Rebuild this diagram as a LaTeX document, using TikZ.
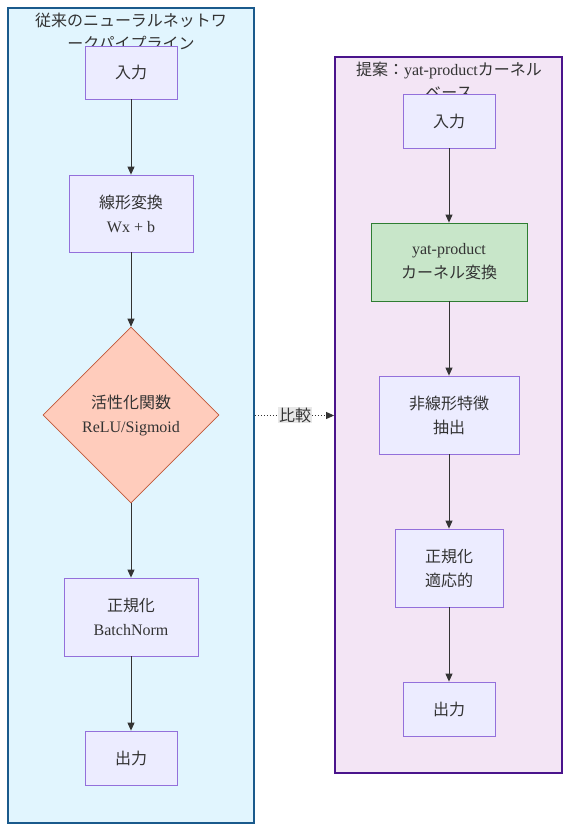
\documentclass[tikz,border=0pt]{standalone}
\usepackage{fontspec}
\setmainfont{Liberation Serif}
\newfontfamily\jp{Noto Sans CJK JP}
\usetikzlibrary{shapes.geometric,arrows.meta}
\definecolor{nodefill}{HTML}{ECECFF}
\definecolor{nodeline}{HTML}{9370DB}
\definecolor{txt}{HTML}{333333}
\definecolor{lbfill}{HTML}{E1F5FE}
\definecolor{lbline}{HTML}{1A5A8C}
\definecolor{rbfill}{HTML}{F3E5F5}
\definecolor{rbline}{HTML}{4A148C}
\definecolor{gfill}{HTML}{C8E6C9}
\definecolor{gline}{HTML}{2E7D32}
\definecolor{dfill}{HTML}{FFCCBC}
\definecolor{dline}{HTML}{C0583A}
\definecolor{lblbg}{HTML}{E8E8E8}
\tikzset{
  cluster/.style={rectangle, line width=1.8pt, inner sep=0pt},
  box/.style={rectangle, draw=nodeline, fill=nodefill, line width=0.8pt, text=txt,
    font=\fontsize{16}{24}\selectfont, align=center, inner sep=0pt},
  ttl/.style={text=txt, font=\fontsize{16}{23}\selectfont, align=center, inner sep=0pt},
  edge/.style={draw=txt, line width=0.9pt, -{Triangle[length=8pt,width=7pt]}}
}
\begin{document}
\begin{tikzpicture}[x=1pt,y=-1pt]
\useasboundingbox (0,0) rectangle (570,831);
\fill[white] (0,0) rectangle (570,831);
% clusters
\node[cluster, fill=lbfill, draw=lbline, minimum width=246pt, minimum height=815pt] (lc) at (131,415.5) {};
\node[cluster, fill=rbfill, draw=rbline, minimum width=227pt, minimum height=716pt] (rc) at (448.5,415) {};
\node[ttl] (lt) at (131,31.5) {\jp 従来のニューラルネットワ\\\jp ークパイプライン};
\node[ttl] (rt) at (449,80.5) {{\jp 提案：}yat-product{\jp カーネル}\\\jp ベース};
% left nodes
\node[box, minimum width=92pt, minimum height=53pt] (l1) at (131,72.5) {\jp 入力};
\node[box, minimum width=124pt, minimum height=77pt] (l2) at (131,213.5) {{\jp 線形変換}\\Wx + b};
\node[diamond, aspect=1, draw=dline, fill=dfill, line width=0.6pt, text=txt, inner sep=0pt,
  minimum width=176pt, minimum height=176pt, align=center, font=\fontsize{16}{24}\selectfont] (l3) at (131,415) {{\jp 活性化関数}\\ReLU/Sigmoid};
\node[box, minimum width=134pt, minimum height=78pt] (l4) at (131,617) {{\jp 正規化}\\BatchNorm};
\node[box, minimum width=92pt, minimum height=54pt] (l5) at (131,758) {\jp 出力};
% right nodes
\node[box, minimum width=92pt, minimum height=54pt] (r1) at (449,121) {\jp 入力};
\node[box, draw=gline, fill=gfill, minimum width=156pt, minimum height=78pt] (r2) at (449,262) {yat-product\\\jp カーネル変換};
\node[box, minimum width=140pt, minimum height=78pt] (r3) at (449,415) {{\jp 非線形特徴}\\\jp 抽出};
\node[box, minimum width=108pt, minimum height=78pt] (r4) at (449,568) {{\jp 正規化}\\\jp 適応的};
\node[box, minimum width=92pt, minimum height=54pt] (r5) at (449,709) {\jp 出力};
% edges
\draw[edge] (l1) -- (l2);
\draw[edge] (l2) -- (l3);
\draw[edge] (l3) -- (l4);
\draw[edge] (l4) -- (l5);
\draw[edge] (r1) -- (r2);
\draw[edge] (r2) -- (r3);
\draw[edge] (r3) -- (r4);
\draw[edge] (r4) -- (r5);
\draw[edge, dash pattern=on 1.5pt off 1.5pt] (lc.east) -- (lc.east -| rc.west);
\node[fill=lblbg, text=txt, inner sep=1pt, font=\fontsize{16}{20}\selectfont] (cmp) at (295,415) {\jp 比較};
\end{tikzpicture}
\end{document}
